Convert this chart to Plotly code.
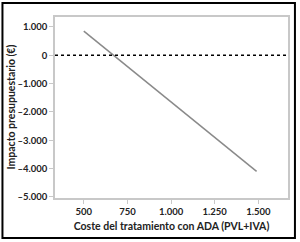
import plotly.graph_objects as go

cost = [500, 1490]
impact = [850, -4100]
xticks = [500, 750, 1000, 1250, 1500]
xticktext = ["500", "750", "1.000", "1.250", "1.500"]
yticks = [1000, 0, -1000, -2000, -3000, -4000, -5000]
yticktext = ["1.000", "0", "–1.000", "–2.000", "–3.000", "–4.000", "–5.000"]

font = dict(family="Lato", size=10.5, color="#222222", weight="bold")
tfont = dict(family="Lato", size=9.5, color="#222222", weight="bold")

fig = go.Figure()
fig.add_trace(go.Scatter(x=cost, y=impact, mode="lines",
                         line=dict(color="#8a8a8a", width=1.5),
                         showlegend=False, hoverinfo="skip"))
fig.add_hline(y=0, line=dict(color="black", width=1.5, dash="dot"))
fig.add_shape(type="rect", xref="paper", yref="paper",
              x0=-0.2255, x1=1.0298, y0=-0.221, y1=1.077,
              line=dict(color="black", width=2))
fig.add_annotation(text="Impacto presupuestario (€)", xref="paper", yref="paper",
                   x=-0.193, y=0.5, textangle=-90, showarrow=False,
                   xanchor="center", yanchor="middle", font=font)

fig.update_layout(
    width=300, height=242,
    margin=dict(l=55, r=10, t=17, b=44),
    paper_bgcolor="white", plot_bgcolor="white",
    font=font,
    xaxis=dict(range=[335, 1670], tickvals=xticks, ticktext=xticktext,
               showgrid=False, zeroline=False, showline=True, mirror=True,
               linecolor="#c8c8c8", linewidth=1.5, ticks="outside",
               ticklen=4, tickcolor="#c8c8c8", tickfont=tfont,
               title=dict(text="Coste del tratamiento con ADA (PVL+IVA)",
                          font=font, standoff=6)),
    yaxis=dict(range=[-5040, 1350], tickvals=yticks, ticktext=yticktext,
               showgrid=False, zeroline=False, showline=True, mirror=True,
               linecolor="#c8c8c8", linewidth=1.5, ticks="outside",
               ticklen=4, tickcolor="#c8c8c8", tickfont=tfont),
)
fig.write_html("out.html")
